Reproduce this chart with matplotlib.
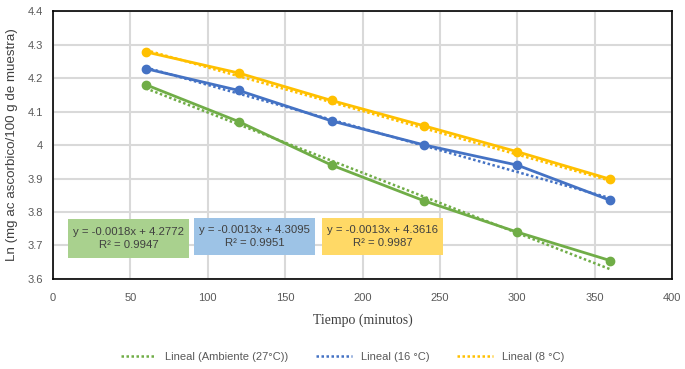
import numpy as np
import matplotlib.pyplot as plt
from matplotlib.patches import Rectangle
from matplotlib.ticker import FuncFormatter

tiempo = [60, 120, 180, 240, 300, 360]
ambiente = [4.18, 4.07, 3.94, 3.833, 3.74, 3.655]
t16 = [4.228, 4.163, 4.072, 4.0, 3.94, 3.835]
t8 = [4.278, 4.215, 4.133, 4.057, 3.98, 3.898]

pendientes = [-0.0018, -0.0013, -0.0013]
interceptos = [4.2772, 4.3095, 4.3616]
r2 = [0.9947, 0.9951, 0.9987]
nombres = ["Lineal (Ambiente (27°C))", "Lineal (16 °C)", "Lineal (8 °C)"]

colores = ["#70AD47", "#4472C4", "#FFC000"]
cajas = ["#A9D18E", "#9DC3E6", "#FFD966"]
# (x0, x1, y0, y1) de cada recuadro en unidades de datos
rect_caja = [(9.7, 87.9, 3.663, 3.779), (91.1, 169.3, 3.672, 3.782), (173.8, 252.0, 3.672, 3.782)]

fig = plt.figure(figsize=(6.85, 3.69), dpi=100)
ax = fig.add_axes([0.0774, 0.244, 0.9036, 0.726])

x = np.array(tiempo)
lineas = []
for serie, c, m, b in zip([ambiente, t16, t8], colores, pendientes, interceptos):
    ax.plot(tiempo, serie, color=c, lw=2, marker="o", ms=6, zorder=3)
    l, = ax.plot(x, m * x + b, color=c, lw=1.8, ls=(0, (1, 1)), zorder=4)
    lineas.append(l)

for (x0, x1, y0, y1), m, b, r, cb in zip(rect_caja, pendientes, interceptos, r2, cajas):
    ax.add_patch(Rectangle((x0, y0), x1 - x0, y1 - y0, fc=cb, ec="none", zorder=5))
    txt = f"y = {m:.4f}x + {b:.4f}\nR² = {r:.4f}"
    ax.text((x0 + x1) / 2, (y0 + y1) / 2, txt, ha="center", va="center", fontsize=8.2,
            family="Liberation Sans", color="#404040", linespacing=1.35, zorder=6)

ax.set_xlim(0, 400)
ax.set_ylim(3.6, 4.4)
ax.set_xticks(np.arange(0, 401, 50))
ax.set_yticks(np.arange(3.6, 4.41, 0.1))
ax.yaxis.set_major_formatter(FuncFormatter(lambda v, p: f"{v:.1f}".rstrip("0").rstrip(".")))
ax.grid(True, color="#D9D9D9", lw=1.5)
ax.set_axisbelow(True)
ax.tick_params(length=0, labelsize=8, labelcolor="#595959")
ax.tick_params(axis="x", pad=10)
ax.tick_params(axis="y", pad=7)
for lab in ax.get_xticklabels() + ax.get_yticklabels():
    lab.set_family("Liberation Sans")
for s in ax.spines.values():
    s.set_color("black")
    s.set_linewidth(1.2)

ax.set_xlabel("Tiempo (minutos)", family="Liberation Serif", fontsize=10, color="#404040", labelpad=8)
ax.set_ylabel("Ln (mg ac ascorbico/100 g de muestra)", family="Liberation Sans", fontsize=9.6,
              color="#404040", labelpad=7)

fig.legend(lineas, nombres, loc="center", bbox_to_anchor=(0.5, 0.033), ncol=3, frameon=False,
           prop={"family": "Liberation Sans", "size": 8}, handlelength=3.2, columnspacing=2.5,
           labelcolor="#595959")

fig.savefig("out.png", dpi=100)
